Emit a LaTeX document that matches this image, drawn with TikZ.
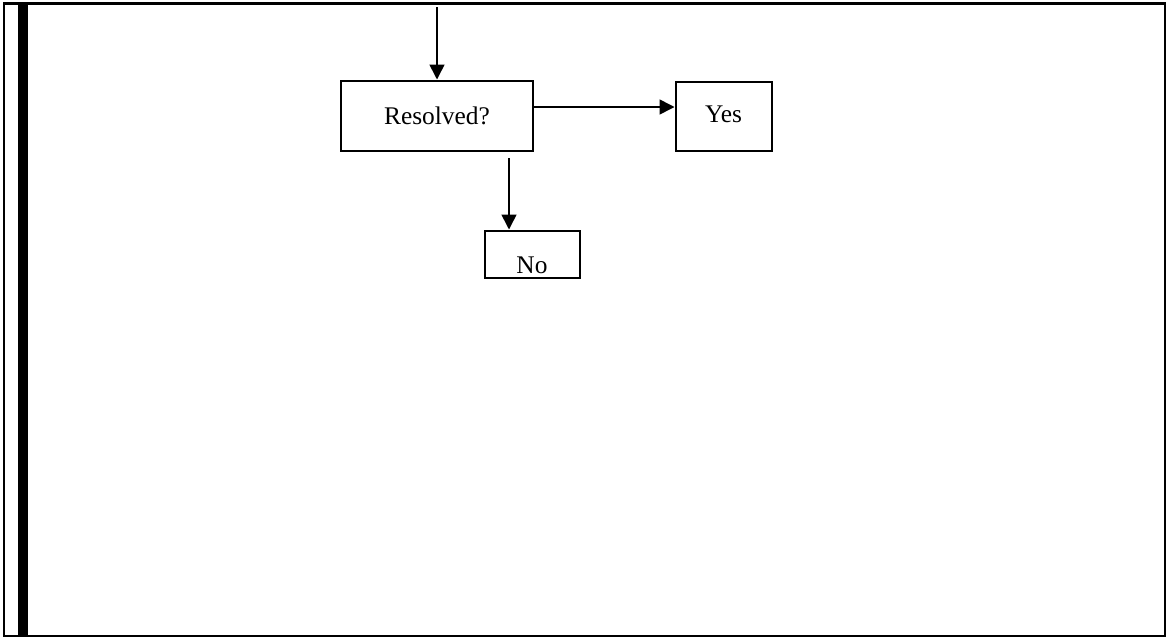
\documentclass[tikz,border=0pt]{standalone}
\usepackage{fontspec}
\setmainfont{Liberation Serif}
\usetikzlibrary{arrows.meta}
\begin{document}
\begin{tikzpicture}[x=0.5pt,y=-0.5pt,
    box/.style={draw,line width=1pt,inner sep=0pt,font=\fontsize{12.7}{15}\selectfont},
    arr/.style={-{Triangle[length=7.5pt,width=7.5pt]},line width=0.8pt}]
  \useasboundingbox (0,0) rectangle (1167,638);
  % frame with the thick bar on the left
  \draw[line width=1.2pt] (4,3.5) rectangle (1165,636);
  \fill (18,3.5) rectangle (28,636);
  % boxes
  \node[box,minimum width=96pt,minimum height=35pt] (resolved) at (437,115.5) {Resolved?};
  \node[box,minimum width=48pt,minimum height=34.5pt,text height=9pt,text depth=3pt] (yes) at (723.5,116) {Yes};
  \node[box,minimum width=47.5pt,minimum height=23.5pt,text height=21.4pt,text depth=2pt] (no) at (532,254) {No};
  % arrows
  \coordinate (top) at (437,7);
  \coordinate (nofrom) at (509,158);
  \draw[arr] (top) -- (resolved.north);
  \draw[arr] ([yshift=4.25pt]resolved.east) -- ([yshift=4.25pt]resolved.east -| yes.west);
  \draw[arr] (nofrom) -- (nofrom |- no.north);
\end{tikzpicture}
\end{document}
